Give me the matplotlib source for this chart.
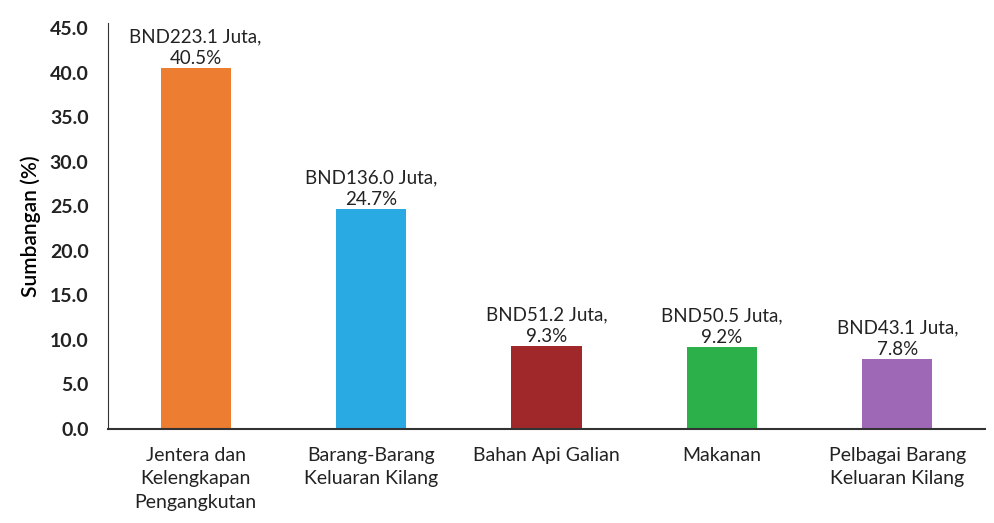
import matplotlib.pyplot as plt
import numpy as np

plt.rcParams['font.family'] = ['Lato', 'DejaVu Sans']

categories = ['Jentera dan\nKelengkapan\nPengangkutan', 'Barang-Barang\nKeluaran Kilang',
              'Bahan Api Galian', 'Makanan', 'Pelbagai Barang\nKeluaran Kilang']
share_pct = [40.5, 24.7, 9.3, 9.2, 7.8]
value_mil = [223.1, 136.0, 51.2, 50.5, 43.1]
colors = ['#ED7D31', '#2AAAE2', '#A0282B', '#2BB04A', '#9E68B6']
yticks = [0, 5, 10, 15, 20, 25, 30, 35, 40, 45]

fig = plt.figure(figsize=(9.95, 5.23), dpi=100)
ax = fig.add_axes([0.1085, 0.18, 0.8815, 0.776])

x = np.arange(len(categories))
ax.bar(x, share_pct, width=0.4, color=colors)

for xi, pct, val in zip(x, share_pct, value_mil):
    ax.annotate(f'BND{val:.1f} Juta,\n{pct:.1f}%', (xi, pct), xytext=(0, 1),
                textcoords='offset points', ha='center', va='bottom',
                fontsize=13.5, linespacing=1.3, color='#222222')

ax.set_xlim(-0.5, len(categories) - 0.5)
ax.set_ylim(0, 45.6)
ax.set_yticks(yticks)
ax.set_yticklabels([f'{t:.1f}' for t in yticks], fontweight='bold', fontsize=14)
ax.set_xticks(x)
ax.set_xticklabels(categories, fontsize=14, linespacing=1.45)
ax.tick_params(axis='both', length=0, pad=13, colors='#222222')
ax.tick_params(axis='y', pad=14)
ax.set_ylabel('Sumbangan (%)', fontsize=15, fontweight='semibold', labelpad=6)

for side in ['top', 'right']:
    ax.spines[side].set_visible(False)
ax.spines['left'].set_color('#333333')
ax.spines['bottom'].set_color('#333333')
ax.spines['bottom'].set_linewidth(1.5)

fig.savefig('out.png', dpi=100)
